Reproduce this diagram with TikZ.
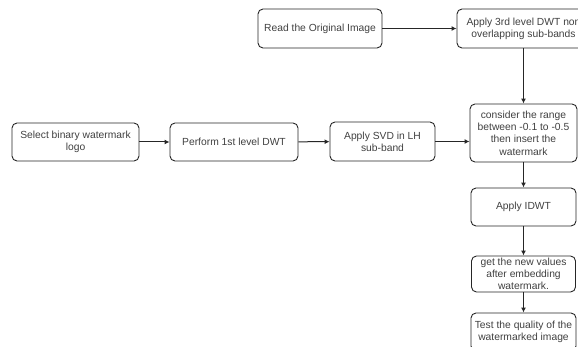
\documentclass[tikz,border=0pt]{standalone}
\usepackage{fontspec}
\setmainfont{Liberation Sans}
\usetikzlibrary{arrows.meta}
\begin{document}
\begin{tikzpicture}[x=1pt,y=-1pt,
  box/.style={draw=black!85,line width=0.9pt,rounded corners=5pt,align=center,inner sep=1pt,
    text=black!75,font=\fontsize{10.3}{12.3}\selectfont},
  conn/.style={draw=black!85,line width=1pt,-{Latex[length=5pt,width=5pt]}}]
\useasboundingbox (0,0) rectangle (578,347);
\begin{scope}
\clip (0,0) rectangle (578,347);
\node[box,minimum width=124pt,minimum height=39pt] (read) at (320,28.5) {Read the Original Image};
\node[box,minimum width=133pt,minimum height=39pt] (dwt3) at (523.5,28.5) {Apply 3rd level DWT non\\overlapping sub-bands};
\node[box,minimum width=127pt,minimum height=38pt] (select) at (75.5,142) {Select binary watermark\\logo};
\node[box,minimum width=128pt,minimum height=38pt] (perform) at (234,142) {Perform 1st level DWT};
\node[box,minimum width=105pt,minimum height=39pt] (svd) at (382.5,141.5) {Apply SVD in LH\\sub-band};
\node[box,minimum width=107pt,minimum height=58pt] (consider) at (523.5,133) {consider the range\\between -0.1 to -0.5\\then insert the\\watermark};
\node[box,minimum width=105pt,minimum height=38pt] (idwt) at (523.5,207) {Apply IDWT};
\node[box,minimum width=104pt,minimum height=36pt] (getnew) at (523.5,274) {get the new values\\after embedding\\watermark.};
\node[box,minimum width=105pt,minimum height=38pt] (test) at (523.5,332) {Test the quality of the\\watermarked image};
\draw[conn] (read) -- (dwt3);
\draw[conn] (dwt3) -- (consider);
\draw[conn] (select) -- (perform);
\draw[conn] (perform) -- (svd);
\draw[conn] (svd.east) -- (svd.east -| consider.west);
\draw[conn] (consider) -- (idwt);
\draw[conn] (idwt) -- (getnew);
\draw[conn] (getnew) -- (test);
\end{scope}
\end{tikzpicture}
\end{document}
